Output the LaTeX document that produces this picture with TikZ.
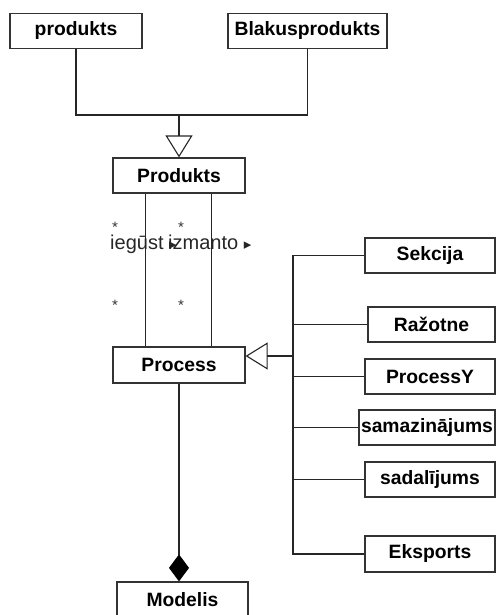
\documentclass[tikz,border=0pt]{standalone}
\usepackage{fontspec}
\setmainfont{Liberation Sans}
\newfontfamily\symfont{DejaVu Sans}
\usetikzlibrary{arrows.meta}
\begin{document}
\begin{tikzpicture}[
        x=1pt, y=-1pt,
        klase/.style={draw=black!80, line width=1.2pt, inner sep=0pt, minimum height=35pt,
            font=\bfseries\fontsize{19.3}{21}\selectfont},
        saite/.style={draw=black!85, line width=1.1pt},
        mant/.style={saite, -{Triangle[open, length=22pt, width=27pt, line width=1.1pt]}},
        kompoz/.style={saite, -{Diamond[length=27pt, width=20pt, fill=black, color=black]}},
        zvaigzne/.style={font=\fontsize{15}{15}\selectfont, inner sep=0pt, anchor=base, text=black!80},
        loma/.style={font=\fontsize{20}{22}\selectfont, inner sep=0pt, anchor=base west, text=black!85}
    ]
    \useasboundingbox (0,0) rectangle (496,615);

    % augšējās klases
    \node[klase, minimum width=132pt] (prod) at (76,31) {produkts};
    \node[klase, minimum width=159pt] (blakus) at (307.5,31) {Blakusprodukts};
    \node[klase, minimum width=132pt] (produkts) at (179,175.5) {Produkts};
    \node[klase, minimum width=132pt, minimum height=36pt] (process) at (179,365) {Process};

    % apakšklases labajā pusē
    \node[klase, minimum width=130pt] (sekcija) at (430,255.5) {Sekcija};
    \node[klase, minimum width=127pt] (razotne) at (431.5,324.5) {Ražotne};
    \node[klase, minimum width=130pt] (processy) at (430,376.5) {ProcessY};
    \node[klase, minimum width=136pt] (samaz) at (427,427.5) {samazinājums};
    \node[klase, minimum width=130pt] (sadal) at (430,479.5) {sadalījums};
    \node[klase, minimum width=130pt, minimum height=36pt] (eksports) at (430,554) {Eksports};
    \node[klase, minimum width=131pt, minimum height=36pt] (modelis) at (182.5,600) {Modelis};

    % mantošana uz Produkts
    \coordinate (j) at (179,115);
    \draw[saite] (prod.south) |- (j);
    \draw[saite] (blakus.south) |- (j);
    \draw[mant] (j) -- (produkts.north);

    % asociācijas starp Produkts un Process
    \draw[saite, line width=1pt] ([xshift=33pt]produkts.south west) -- ([xshift=33pt]process.north west);
    \draw[saite, line width=1pt] ([xshift=99pt]produkts.south west) -- ([xshift=99pt]process.north west);
    \node[zvaigzne] (z1) at (115,232) {*};
    \node[zvaigzne] (z2) at (181,232) {*};
    \node[zvaigzne] (z3) at (115,310) {*};
    \node[zvaigzne] (z4) at (181,310) {*};
    \node[loma] (iegust) at (110,249) {iegūst {\symfont\fontsize{15}{15}\selectfont ▸}};
    \node[loma] (izmanto) at (168,249) {izmanto {\symfont\fontsize{15}{15}\selectfont ▸}};

    % mantošana uz Process
    \coordinate (t) at (293,356);
    \draw[saite] (sekcija.west) -- (sekcija.west -| t) -- (eksports.west -| t) -- (eksports.west);
    \foreach \k in {razotne, processy, samaz, sadal}
        \draw[saite] (\k.west) -- (\k.west -| t);
    \draw[saite, line width=2.5pt] (processy.west -| t) -- (t);
    \draw[mant, line width=2.5pt] (t) -- ([yshift=9pt]process.east);

    % kompozīcija
    \draw[kompoz] (process.south) -- (process.south |- modelis.north);
\end{tikzpicture}
\end{document}
